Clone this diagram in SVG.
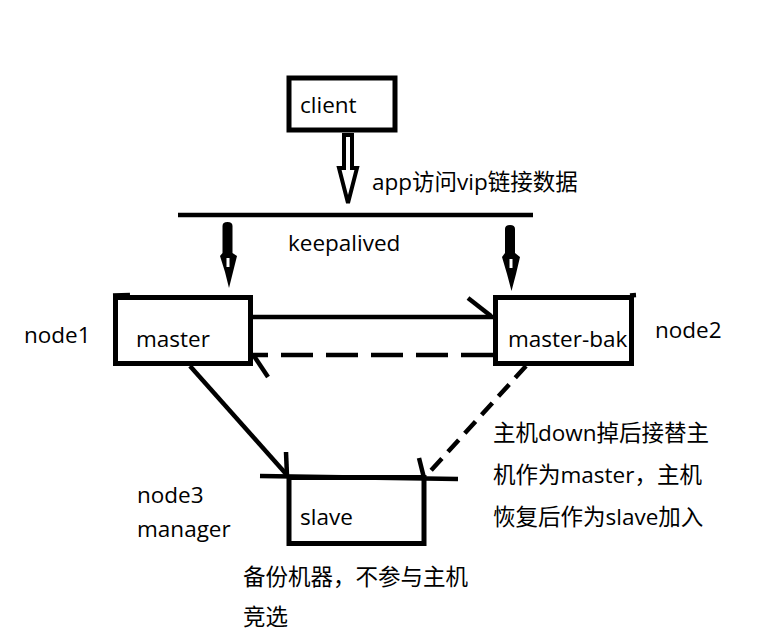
<svg xmlns="http://www.w3.org/2000/svg" width="780" height="643" viewBox="0 0 780 643">
<style>
  text { font-family: "Open Sans", "Noto Sans CJK SC", sans-serif; font-size: 22.5px; fill: #000; }
  .box { fill: #fff; stroke: #000; stroke-width: 5; }
  .ln { fill: none; stroke: #000; stroke-width: 4.5; stroke-linecap: butt; }
  .dash { fill: none; stroke: #000; stroke-width: 4.5; stroke-dasharray: 32 13; }
  .dash2 { fill: none; stroke: #000; stroke-width: 4.5; stroke-dasharray: 16 9; }
  .solidarrow { fill: #000; stroke: none; }
</style>
<rect width="780" height="643" fill="#fff"/>

<g id="client">
  <rect class="box" x="289" y="78" width="106" height="52"/>
  <text x="300" y="113">client</text>
</g>

<g id="keepalived">
  <line class="ln" x1="178" y1="215" x2="533" y2="215" stroke-linecap="round"/>
  <text x="288" y="251">keepalived</text>
</g>

<g id="master">
  <rect class="box" x="115.5" y="297.5" width="135" height="66"/>
  <line class="ln" x1="113" y1="295.5" x2="130" y2="295"/>
  <text x="136" y="347">master</text>
</g>

<g id="master-bak">
  <rect class="box" x="495.5" y="297.5" width="136" height="66"/>
  <line class="ln" x1="630" y1="295.5" x2="636" y2="295"/>
  <text x="508" y="347">master-bak</text>
</g>

<g id="slave">
  <line class="ln" x1="260" y1="476" x2="458" y2="479"/>
  <rect class="box" x="289" y="477.5" width="135" height="66" style="fill:none"/>
  <text x="300" y="525">slave</text>
</g>

<g id="labels">
  <text x="24" y="343">node1</text>
  <text x="655" y="338">node2</text>
  <text x="137" y="503">node3</text>
  <text x="137" y="537">manager</text>
  <text x="372" y="190">app访问vip链接数据</text>
  <text x="493" y="441">主机down掉后接替主</text>
  <text x="493" y="483">机作为master，主机</text>
  <text x="493" y="525">恢复后作为slave加入</text>
  <text x="243" y="585">备份机器，不参与主机</text>
  <text x="243" y="625">竞选</text>
</g>

<g id="connectors">
  <polygon points="344,135 352,135 352,168 357,168 348,203 339,168 344,168" fill="#fff" stroke="#000" stroke-width="4" stroke-linejoin="miter"/>
  <path class="solidarrow" d="M222.5,226 Q222.5,222 227.5,222 Q232.5,222 232.5,226 L232.5,253 L237,256 L233,272 L229,288 L225,272 L220,256 L222.5,253 Z"/>
  <rect x="226.5" y="258" width="3" height="9" fill="#fff"/>
  <path class="solidarrow" d="M505,229 Q505,225 510,225 Q515,225 515,229 L515,253 L520,257 L516,274 L511.5,291 L507,274 L502,257 L505,253 Z"/>
  <rect x="509.5" y="259" width="3" height="9" fill="#fff"/>
  <line class="ln" x1="253" y1="317" x2="493" y2="317"/>
  <line class="ln" x1="468" y1="298" x2="491" y2="316"/>
  <line class="dash" x1="493" y1="355" x2="253" y2="355"/>
  <line class="ln" x1="254" y1="356" x2="268" y2="377"/>
  <line class="ln" x1="190" y1="366" x2="287" y2="475"/>
  <line class="ln" x1="286" y1="452" x2="287" y2="476"/>
  <line class="dash2" x1="526" y1="366" x2="426" y2="476"/>
  <line class="ln" x1="419" y1="458" x2="424" y2="478"/>
</g>
</svg>
